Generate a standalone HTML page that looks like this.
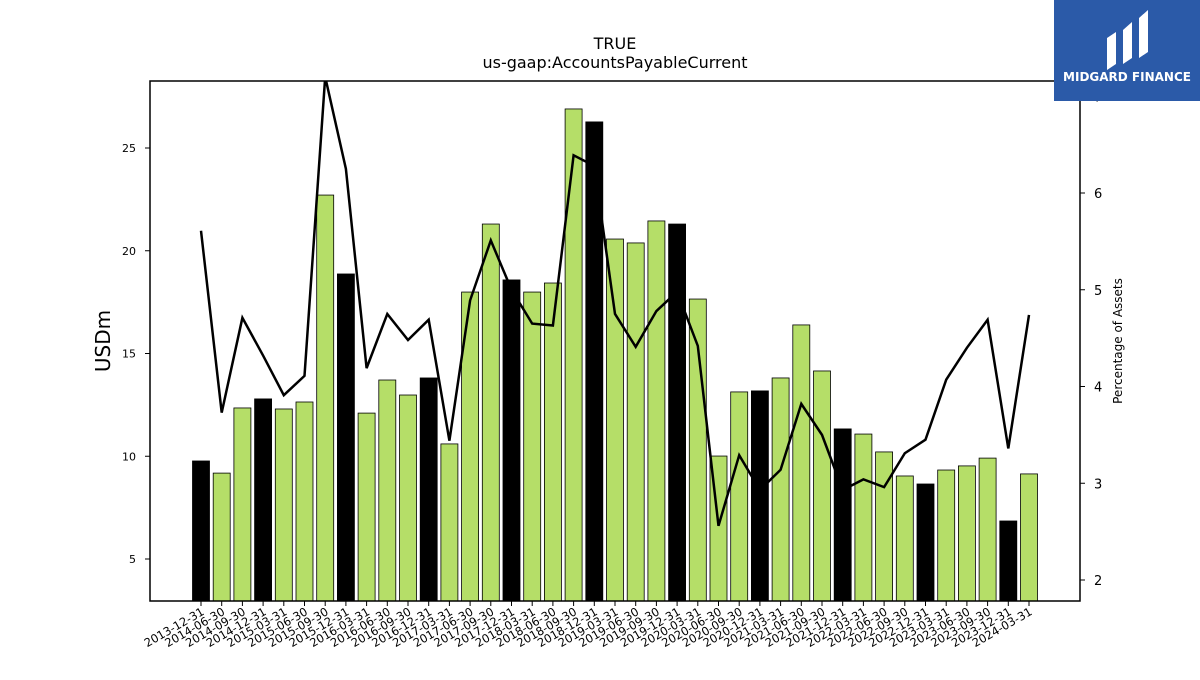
<!DOCTYPE html>
<html><head><meta charset="utf-8"><style>
body{margin:0;background:#fff;font-family:"Liberation Sans","DejaVu Sans",sans-serif;}
</style></head><body>
<svg width="1200" height="675" xmlns="http://www.w3.org/2000/svg" font-family="DejaVu Sans, Liberation Sans, sans-serif">
<text x="615" y="49" font-size="16" text-anchor="middle">TRUE</text>
<text x="615" y="68" font-size="16" text-anchor="middle">us-gaap:AccountsPayableCurrent</text>
<g id="bars"></g><g id="line"></g><g id="axes"></g>
<rect x="150" y="81" width="930" height="520" fill="none" stroke="#000" stroke-width="1.5"/>
<text transform="translate(110,341) rotate(-90)" font-size="20" text-anchor="middle">USDm</text>
<text transform="translate(1122,341) rotate(-90)" font-size="12" text-anchor="middle">Percentage of Assets</text>
<g>
<rect x="1054" y="0" width="146" height="101" fill="#2b5aa8"/>
<path d="M1107 70 L1107 38 L1116 32 L1116 64 Z M1123 64 L1123 30 L1132 22 L1132 58 Z M1139 58 L1139 18 L1148 10 L1148 52 Z" fill="#fff"/>
<text x="1127" y="81" font-size="12" font-weight="bold" fill="#fff" text-anchor="middle">MIDGARD FINANCE</text>
</g>
</svg>
<script>
const dates=["2013-12-31","2014-06-30","2014-09-30","2014-12-31","2015-03-31","2015-06-30","2015-09-30","2015-12-31","2016-03-31","2016-06-30","2016-09-30","2016-12-31","2017-03-31","2017-06-30","2017-09-30","2017-12-31","2018-03-31","2018-06-30","2018-09-30","2018-12-31","2019-03-31","2019-06-30","2019-09-30","2019-12-31","2020-03-31","2020-06-30","2020-09-30","2020-12-31","2021-03-31","2021-06-30","2021-09-30","2021-12-31","2022-03-31","2022-06-30","2022-09-30","2022-12-31","2023-03-31","2023-06-30","2023-09-30","2023-12-31","2024-03-31"];
const values=[9.77,9.18,12.35,12.79,12.30,12.64,22.71,18.87,12.10,13.71,12.98,13.81,10.60,17.99,21.30,18.58,17.99,18.43,26.90,26.27,20.57,20.38,21.45,21.30,17.65,10.01,13.13,13.18,13.81,16.39,14.15,11.33,11.08,10.21,9.04,8.65,9.33,9.53,9.91,6.85,9.14];
const pct=[5.61,3.73,4.71,4.32,3.91,4.11,7.2,6.25,4.19,4.75,4.48,4.69,3.44,4.89,5.51,5.0,4.65,4.63,6.39,6.28,4.75,4.41,4.78,4.98,4.42,2.56,3.29,2.93,3.14,3.82,3.50,2.93,3.04,2.96,3.31,3.45,4.07,4.40,4.69,3.36,4.74];
const leftTicks=[5,10,15,20,25];
const rightTicks=[2,3,4,5,6,7];
const NS="http://www.w3.org/2000/svg";
const x=i=>201+i*(1029-201)/(dates.length-1);
const yL=v=>559-(v-5)*20.55;
const yR=v=>580-(v-2)*96.75;
const Y0=601;
function mk(t,a,p){const e=document.createElementNS(NS,t);for(const k in a)e.setAttribute(k,a[k]);p.appendChild(e);return e;}
const bars=document.getElementById('bars'),line=document.getElementById('line'),axes=document.getElementById('axes');
const bw=17;
values.forEach((v,i)=>{
 const top=Math.max(81,yL(v));
 const r=mk('rect',{x:x(i)-bw/2,y:top,width:bw,height:Y0-top,fill:dates[i].endsWith('12-31')?'#000':'#b5de68',stroke:'#000','stroke-width':0.8},bars);
 
 
});
const cp=mk('clipPath',{id:'cp'},line);mk('rect',{x:150,y:81,width:930,height:520},cp);
const pl=mk('polyline',{points:pct.map((v,i)=>x(i)+','+yR(v)).join(' '),fill:'none',stroke:'#000','stroke-width':2.5,'clip-path':'url(#cp)'},line);


leftTicks.forEach(t=>{
 mk('line',{x1:145,x2:150,y1:yL(t),y2:yL(t),stroke:'#000'},axes);
 const tx=mk('text',{x:136,y:yL(t)+4,'font-size':11,'text-anchor':'end'},axes);tx.textContent=t;
 
 
});
rightTicks.forEach(t=>{
 mk('line',{x1:1080,x2:1085,y1:yR(t),y2:yR(t),stroke:'#000'},axes);
 const tx=mk('text',{x:1094,y:yR(t)+5,'font-size':13},axes);tx.textContent=t;
 
 
});
dates.forEach((d,i)=>{
 mk('line',{x1:x(i),x2:x(i),y1:601,y2:606,stroke:'#000'},axes);
 const tx=mk('text',{transform:`translate(${x(i)+4},${614}) rotate(-30)`,'font-size':11.5,'text-anchor':'end'},axes);tx.textContent=d;
 
 
});
</script>
</body></html>
